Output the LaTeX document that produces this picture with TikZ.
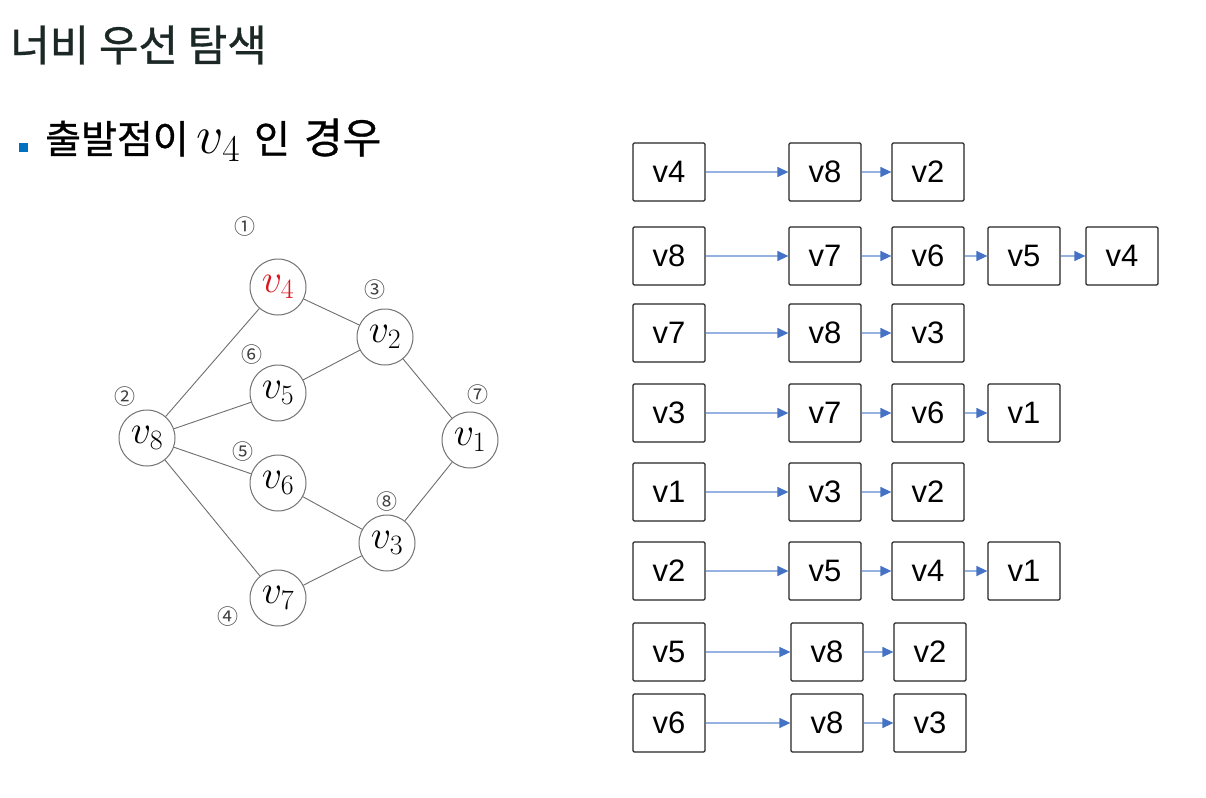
\documentclass[tikz,border=0pt]{standalone}
\usepackage{fix-cm}
\usepackage[no-math]{fontspec}
\setmainfont{Liberation Sans}
\newfontfamily\krfont{Noto Sans CJK KR}[FakeBold=0.8]
\newfontfamily\numfont{Noto Sans CJK KR}
\usetikzlibrary{arrows.meta}
\definecolor{titlegray}{RGB}{28,40,38}
\definecolor{bulletblue}{RGB}{0,112,192}
\definecolor{edgegray}{RGB}{110,110,110}
\definecolor{linkline}{RGB}{150,178,225}
\definecolor{linktip}{RGB}{68,114,196}
\definecolor{startred}{RGB}{220,20,30}

\begin{document}
\begin{tikzpicture}[x=1pt,y=-1pt]
	\tikzset{vtx/.style={circle,draw=black!55,line width=1pt,minimum size=56pt,inner sep=0pt,font=\fontsize{40}{42}\selectfont}}
	\tikzset{order/.style={font=\numfont\fontsize{21}{22}\selectfont,text=black!75,inner sep=0pt}}
	\tikzset{lbox/.style={draw=black!85,line width=1.3pt,rounded corners=1.2pt,minimum width=72pt,minimum height=58pt,inner sep=0pt,font=\fontsize{31}{32}\selectfont}}
	\tikzset{link/.style={draw=linkline,line width=1.3pt,-{Triangle[color=linktip,length=11pt,width=10pt]}}}
	\tikzset{edge/.style={draw=edgegray,line width=0.9pt}}
	\useasboundingbox[fill=white] (0,0) rectangle (1206,797);
	% heading
	\node[anchor=west,text=titlegray,font=\krfont\fontsize{43}{45}\selectfont,inner sep=0pt] (title) at (10,45) {너비 우선 탐색};
	\node[fill=bulletblue,minimum size=9pt,inner sep=0pt] (dot) at (23,147) {};
	\node[anchor=west,inner sep=0pt,font=\fontsize{39}{40}\selectfont] (case) at (45,140)
		{{\krfont 출발점이}\hspace{8pt}{\fontsize{54}{56}\selectfont$v_4$}\hspace{14pt}{\krfont 인}\hspace{14pt}{\krfont\fontsize{42}{44}\selectfont 경우}};
	% graph
	\node[vtx,text=startred] (v4) at (278,287) {$v_4$};
	\node[vtx] (v2) at (385,337) {$v_2$};
	\node[vtx] (v5) at (278,393) {$v_5$};
	\node[vtx] (v8) at (147,438) {$v_8$};
	\node[vtx] (v1) at (470,440) {$v_1$};
	\node[vtx] (v6) at (278,483) {$v_6$};
	\node[vtx] (v3) at (387,543) {$v_3$};
	\node[vtx] (v7) at (278,598) {$v_7$};
	\foreach \a/\b in {v4/v8,v4/v2,v2/v5,v2/v1,v5/v8,v8/v6,v8/v7,v6/v3,v3/v1,v3/v7}
		\draw[edge] (\a) -- (\b);
	% visiting order
	\node[order] (n1) at (245,227) {①};
	\node[order] (n2) at (125,397) {②};
	\node[order] (n3) at (375,290) {③};
	\node[order] (n4) at (228,617) {④};
	\node[order] (n5) at (243,452) {⑤};
	\node[order] (n6) at (252,355) {⑥};
	\node[order] (n7) at (478,395) {⑦};
	\node[order] (n8) at (387,502) {⑧};
	% adjacency lists
	\node[lbox] (r1a) at (669,172) {v4};
	\node[lbox] (r1b) at (825,172) {v8};
	\node[lbox] (r1c) at (928,172) {v2};
	\node[lbox] (r2a) at (669,256) {v8};
	\node[lbox] (r2b) at (825,256) {v7};
	\node[lbox] (r2c) at (928,256) {v6};
	\node[lbox] (r2d) at (1024,256) {v5};
	\node[lbox] (r2e) at (1122,256) {v4};
	\node[lbox] (r3a) at (669,333) {v7};
	\node[lbox] (r3b) at (825,333) {v8};
	\node[lbox] (r3c) at (928,333) {v3};
	\node[lbox] (r4a) at (669,413) {v3};
	\node[lbox] (r4b) at (825,413) {v7};
	\node[lbox] (r4c) at (928,413) {v6};
	\node[lbox] (r4d) at (1024,413) {v1};
	\node[lbox] (r5a) at (669,492) {v1};
	\node[lbox] (r5b) at (825,492) {v3};
	\node[lbox] (r5c) at (928,492) {v2};
	\node[lbox] (r6a) at (669,571) {v2};
	\node[lbox] (r6b) at (825,571) {v5};
	\node[lbox] (r6c) at (928,571) {v4};
	\node[lbox] (r6d) at (1024,571) {v1};
	\node[lbox] (r7a) at (669,652) {v5};
	\node[lbox] (r7b) at (827,652) {v8};
	\node[lbox] (r7c) at (930,652) {v2};
	\node[lbox] (r8a) at (669,723) {v6};
	\node[lbox] (r8b) at (827,723) {v8};
	\node[lbox] (r8c) at (930,723) {v3};
	\foreach \a/\b in {r1a/r1b,r1b/r1c,r2a/r2b,r2b/r2c,r2c/r2d,r2d/r2e,r3a/r3b,r3b/r3c,r4a/r4b,r4b/r4c,r4c/r4d,r5a/r5b,r5b/r5c,r6a/r6b,r6b/r6c,r6c/r6d,r7a/r7b,r7b/r7c,r8a/r8b,r8b/r8c}
		\draw[link] (\a) -- (\b);
\end{tikzpicture}
\end{document}
